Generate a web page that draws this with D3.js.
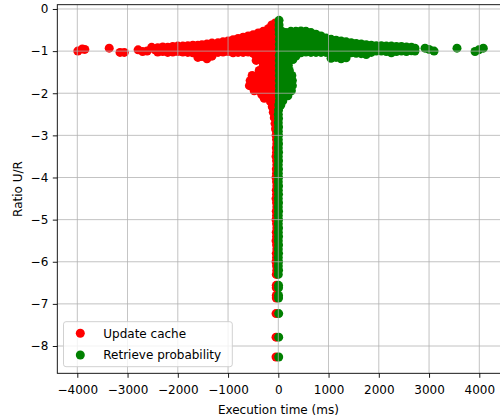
<!DOCTYPE html>
<html>
<head>
<meta charset="utf-8">
<script src="https://cdn.jsdelivr.net/npm/d3@7"></script>
<style>
html,body{margin:0;padding:0;background:#fff;}
svg{display:block;}
text{font-family:"DejaVu Sans",sans-serif;}
</style>
</head>
<body>
<svg id="chart" width="500" height="419"></svg>
<script>
// ---------- data (x = execution time in ms, y = ratio U/R) ----------
const xTicks = [-4000,-3000,-2000,-1000,0,1000,2000,3000,4000];
const yTicks = [0,-1,-2,-3,-4,-5,-6,-7,-8];
const seriesNames = ["Update cache","Retrieve probability"];

const updateTail = [[-3990,-1.00],[-3900,-0.95],[-3850,-0.96],[-3365,-0.93],[-3150,-1.03],[-3065,-1.03],
  [-2790,-0.97],[-2700,-1.01],[-2610,-1.00],[-2520,-0.91],[-2455,-0.97]];

const updateBand = [
  [-2400,-0.92],[-2400,-1.02],[-2300,-0.90],[-2300,-1.01],[-2200,-0.91],[-2200,-1.03],
  [-2100,-0.89],[-2100,-1.02],[-2000,-0.88],[-2000,-1.01],[-1900,-0.88],[-1900,-1.02],
  [-1800,-0.87],[-1800,-0.97],[-1800,-1.03],[-1700,-0.86],[-1700,-0.97],[-1700,-1.04],
  [-1600,-0.86],[-1600,-0.97],[-1600,-1.07],[-1600,-1.15],
  [-1520,-0.85],[-1520,-0.96],[-1520,-1.06],[-1520,-1.13],
  [-1420,-0.83],[-1420,-0.94],[-1420,-1.05],[-1420,-1.18],
  [-1320,-0.81],[-1320,-0.93],[-1320,-1.03],[-1320,-1.12],
  [-1200,-0.80],[-1200,-0.92],[-1200,-1.03],[-1100,-0.78],[-1100,-0.90],[-1100,-1.02],
  [-1000,-0.76],[-1000,-0.88],[-1000,-1.01],
  [-900,-0.73],[-900,-0.85],[-900,-0.96],[-900,-1.04],
  [-800,-0.70],[-800,-0.82],[-800,-0.94],[-800,-1.03],
  [-700,-0.67],[-700,-0.79],[-700,-0.91],[-700,-1.03],
  [-600,-0.64],[-600,-0.76],[-600,-0.88],[-600,-1.02],
  [-500,-0.61],[-500,-0.73],[-500,-0.85],[-500,-0.97],[-500,-1.05],
  [-400,-0.57],[-400,-0.69],[-400,-0.81],[-400,-0.93],[-400,-1.05],
  [-300,-0.53],[-300,-0.65],[-300,-0.77],[-300,-0.89],[-300,-1.01],
  [-200,-0.47],[-200,-0.59],[-200,-0.71],[-200,-0.83],[-200,-0.95],
  [-130,-0.38],[-130,-0.50],[-130,-0.62],[-130,-0.74],[-130,-0.86],[-130,-0.98],
  [-60,-0.33],[-60,-0.45],[-60,-0.57],[-60,-0.69],[-60,-0.81],[-60,-0.93]
];

const updateBlob = [
  [-440,-1.12],[-340,-1.12],[-240,-1.10],[-140,-1.10],[-60,-1.05],
  [-440,-1.22],[-340,-1.22],[-240,-1.22],[-140,-1.22],[-60,-1.20],
  [-300,-1.34],[-200,-1.34],[-100,-1.34],[-40,-1.34],
  [-380,-1.46],[-290,-1.46],[-190,-1.46],[-100,-1.46],[-40,-1.46],
  [-520,-1.58],[-420,-1.58],[-320,-1.58],[-220,-1.58],[-120,-1.58],[-40,-1.58],
  [-560,-1.70],[-460,-1.70],[-360,-1.70],[-260,-1.70],[-160,-1.70],[-60,-1.70],
  [-575,-1.82],[-475,-1.82],[-375,-1.82],[-275,-1.82],[-175,-1.82],[-75,-1.82],
  [-480,-1.94],[-380,-1.94],[-280,-1.94],[-180,-1.94],[-80,-1.94],
  [-330,-2.03],[-230,-2.03],[-130,-2.03],[-50,-2.03],
  [-280,-2.12],[-180,-2.12],[-90,-2.12],
  [-155,-2.20],[-70,-2.20],[-120,-2.32],[-50,-2.32],[-100,-2.45],[-40,-2.45],
  [-80,-2.58],[-40,-2.60],[-65,-2.72],[-55,-2.85]
];

const updateStrip = [
  [-35,-2.70],[-40,-2.80],[-35,-2.90],[-45,-3.00],[-35,-3.10],[-30,-3.20],[-40,-3.30],[-35,-3.40],
  [-45,-3.50],[-35,-3.60],[-30,-3.70],[-40,-3.80],[-35,-3.90],[-45,-4.00],[-35,-4.10],[-30,-4.20],
  [-40,-4.30],[-35,-4.40],[-45,-4.50],[-35,-4.60],[-30,-4.70],[-40,-4.80],[-35,-4.90],[-45,-5.00],
  [-35,-5.10],[-30,-5.20],[-40,-5.30],[-35,-5.40],[-45,-5.50],[-35,-5.60],[-30,-5.70],[-40,-5.80],
  [-35,-5.90],[-45,-6.00],[-35,-6.10],[-30,-6.20],[-40,-6.30],
  [-40,-6.56],[-40,-6.62],[-40,-6.80],[-40,-6.86],[-45,-7.23],[-45,-7.79],[-45,-8.26]
];

const retrieveTail = [[2920,-0.93],[3000,-0.96],[3100,-1.00],[3556,-0.93],[3915,-1.01],[3990,-0.97],[4080,-0.93]];

const retrieveBand = [
  [60,-0.52],[60,-0.64],[60,-0.76],[60,-0.88],[60,-1.00],
  [150,-0.56],[150,-0.68],[150,-0.80],[150,-0.92],[150,-1.03],
  [250,-0.53],[250,-0.65],[250,-0.77],[250,-0.89],[250,-1.01],
  [350,-0.53],[350,-0.65],[350,-0.77],[350,-0.89],[350,-1.01],[350,-1.12],
  [450,-0.52],[450,-0.64],[450,-0.76],[450,-0.88],[450,-1.00],[450,-1.04],
  [550,-0.53],[550,-0.65],[550,-0.77],[550,-0.89],[550,-1.02],
  [650,-0.56],[650,-0.68],[650,-0.80],[650,-0.92],[650,-1.03],
  [750,-0.60],[750,-0.72],[750,-0.84],[750,-0.96],[750,-1.03],
  [850,-0.64],[850,-0.76],[850,-0.88],[850,-1.00],[850,-1.03],
  [950,-0.69],[950,-0.81],[950,-0.93],[950,-1.03],
  [1050,-0.72],[1050,-0.84],[1050,-0.96],[1050,-1.08],[1050,-1.17],
  [1150,-0.74],[1150,-0.86],[1150,-0.98],[1150,-1.10],[1150,-1.15],
  [1250,-0.76],[1250,-0.88],[1250,-1.00],[1250,-1.12],[1250,-1.18],
  [1350,-0.78],[1350,-0.90],[1350,-1.02],[1350,-1.16],
  [1450,-0.80],[1450,-0.92],[1450,-1.04],[1550,-0.82],[1550,-0.94],[1550,-1.05],
  [1650,-0.83],[1650,-0.95],[1650,-1.06],[1750,-0.85],[1750,-0.97],[1750,-1.08],
  [1850,-0.86],[1850,-0.98],[1850,-1.03],[1950,-0.87],[1950,-1.00],
  [2050,-0.87],[2050,-1.00],[2150,-0.88],[2150,-1.01],[2250,-0.88],[2250,-1.04],
  [2350,-0.89],[2350,-1.01],[2450,-0.89],[2450,-1.00],[2550,-0.90],[2550,-1.01],
  [2650,-0.91],[2650,-0.99],[2720,-0.93],[2720,-1.00]
];

const retrieveBlob = [
  [15,-0.27],[15,-0.38],[15,-0.49],[20,-0.60],[20,-0.72],[20,-0.84],[20,-0.96],
  [20,-1.10],[120,-1.10],[220,-1.10],[320,-1.12],
  [20,-1.22],[120,-1.22],[220,-1.22],[290,-1.20],
  [20,-1.34],[120,-1.34],[200,-1.34],
  [20,-1.46],[120,-1.46],[220,-1.46],
  [20,-1.58],[120,-1.58],[220,-1.58],[270,-1.58],
  [20,-1.70],[120,-1.70],[220,-1.70],[280,-1.70],
  [20,-1.82],[120,-1.82],[220,-1.82],[280,-1.82],
  [20,-1.94],[120,-1.94],[220,-1.94],[260,-1.94],
  [20,-2.06],[120,-2.06],[190,-2.06],
  [20,-2.18],[90,-2.18],[10,-2.28],[50,-2.28]
];

const retrieveStrip = [
  [5,-2.40],[0,-2.50],[5,-2.60],[0,-2.70],[5,-2.80],[0,-2.90],[5,-3.00],[0,-3.10],
  [5,-3.20],[0,-3.30],[5,-3.40],[0,-3.50],[5,-3.60],[0,-3.70],[5,-3.80],[0,-3.90],
  [5,-4.00],[0,-4.10],[5,-4.20],[0,-4.30],[5,-4.40],[0,-4.50],[5,-4.60],[0,-4.70],
  [5,-4.80],[0,-4.90],[5,-5.00],[0,-5.10],[5,-5.20],[0,-5.30],[5,-5.40],[0,-5.50],
  [5,-5.60],[0,-5.70],[5,-5.80],[0,-5.90],[5,-6.00],[0,-6.10],[5,-6.20],[0,-6.30],
  [5,-6.56],[5,-6.62],[5,-6.80],[5,-6.86],[8,-7.23],[8,-7.79],[8,-8.26]
];

const updateCache = [].concat(updateTail, updateBand, updateBlob, updateStrip);
const retrieveProbability = [].concat(retrieveTail, retrieveBand, retrieveBlob, retrieveStrip);
const colors = ["#ff0000", "#008000"];

// ---------- layout ----------
const plotLeft = 57.3, plotTop = 4.7, plotBottom = 373.3;
const xDomain = [-4398, 4480];
const yDomain = [-8.648, 0.102];
const pxPer1000 = 50.25;
const plotRight = plotLeft + (xDomain[1] - xDomain[0]) / 1000 * pxPer1000;
const R = 4.5;

const svg = d3.select("#chart");
const x = d3.scaleLinear().domain(xDomain).range([plotLeft, plotRight]);
const y = d3.scaleLinear().domain(yDomain).range([plotBottom, plotTop]);

svg.append("defs").append("clipPath").attr("id","clip")
  .append("rect").attr("x", plotLeft).attr("y", plotTop)
  .attr("width", plotRight - plotLeft).attr("height", plotBottom - plotTop);

const pts = svg.append("g").attr("clip-path","url(#clip)");
[updateCache, retrieveProbability].forEach((data, i) => {
  pts.append("g").selectAll("circle").data(data).join("circle")
    .attr("cx", d => x(d[0])).attr("cy", d => y(d[1])).attr("r", R)
    .attr("fill", colors[i]);
});

// grid (drawn above the markers, as in reference)
const grid = svg.append("g").attr("clip-path","url(#clip)");
grid.selectAll(".gx").data(xTicks).join("line")
  .attr("x1", d => x(d)).attr("x2", d => x(d)).attr("y1", plotTop).attr("y2", plotBottom)
  .attr("stroke", "#b0b0b0").attr("stroke-width", 0.9).attr("opacity", 0.85);
grid.selectAll(".gy").data(yTicks).join("line")
  .attr("x1", plotLeft).attr("x2", plotRight).attr("y1", d => y(d)).attr("y2", d => y(d))
  .attr("stroke", "#b0b0b0").attr("stroke-width", 0.9).attr("opacity", 0.85);

// axes
const fmt = d3.format("d");
const xAxis = svg.append("g").attr("transform", `translate(0,${plotBottom})`)
  .call(d3.axisBottom(x).tickValues(xTicks).tickFormat(fmt).tickSize(4.5).tickPadding(8).tickSizeOuter(0));
const yAxis = svg.append("g").attr("transform", `translate(${plotLeft},0)`)
  .call(d3.axisLeft(y).tickValues(yTicks).tickFormat(fmt).tickSize(4.5).tickPadding(4.5).tickSizeOuter(0));
[xAxis, yAxis].forEach(a => {
  a.select(".domain").remove();
  a.selectAll("text").attr("font-size", 12).attr("fill", "#000")
    .attr("font-family", "DejaVu Sans, sans-serif");
  a.selectAll("line").attr("stroke", "#000").attr("stroke-width", 0.9);
});

// spines
svg.append("rect").attr("x", plotLeft).attr("y", plotTop)
  .attr("width", plotRight - plotLeft).attr("height", plotBottom - plotTop)
  .attr("fill", "none").attr("stroke", "#000").attr("stroke-width", 0.9);

// axis labels
svg.append("text").attr("x", (plotLeft + plotRight) / 2 - 2).attr("y", 413.5)
  .attr("text-anchor", "middle").attr("font-size", 12).text("Execution time (ms)");
svg.append("text").attr("transform", `translate(21.5,${(plotTop + plotBottom) / 2}) rotate(-90)`)
  .attr("text-anchor", "middle").attr("font-size", 12).text("Ratio U/R");

// legend
const lg = svg.append("g");
lg.append("rect").attr("x", 63.5).attr("y", 321.7).attr("width", 168.8).attr("height", 45)
  .attr("rx", 2.5).attr("fill", "#fff").attr("fill-opacity", 0.8)
  .attr("stroke", "#cccccc").attr("stroke-width", 0.9);
seriesNames.forEach((name, i) => {
  const cy = 333.3 + i * 21.7;
  lg.append("circle").attr("cx", 80.3).attr("cy", cy).attr("r", R).attr("fill", colors[i]);
  lg.append("text").attr("x", 103.3).attr("y", cy + 4.4).attr("font-size", 12).text(name);
});
</script>
</body>
</html>
